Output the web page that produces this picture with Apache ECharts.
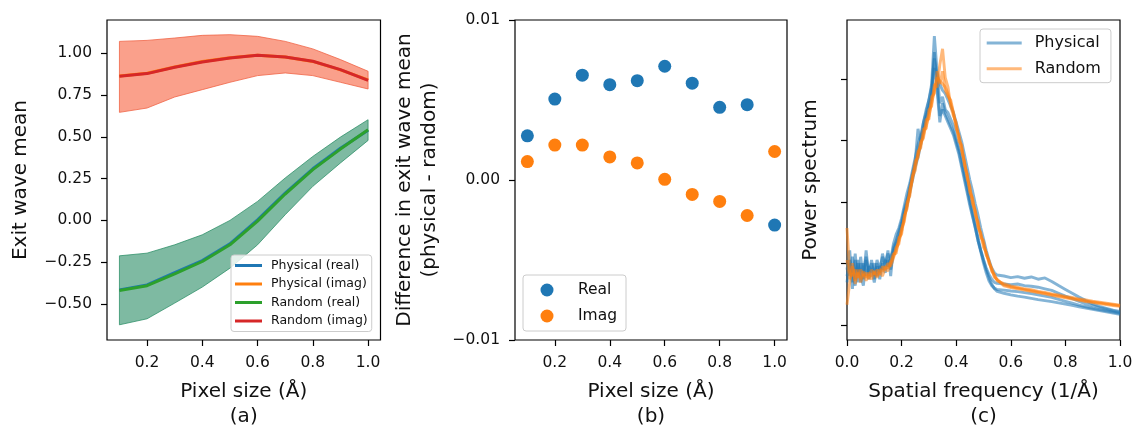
<!DOCTYPE html>
<html><head><meta charset="utf-8">
<script src="https://cdn.jsdelivr.net/npm/echarts@6/dist/echarts.min.js"></script>
<style>html,body{margin:0;padding:0;background:#fff}#c{width:1133px;height:427px}</style>
</head><body><div id="c"></div>
<script>
// ---------- Panel (a) ----------
const pixelSize = [0.1,0.2,0.3,0.4,0.5,0.6,0.7,0.8,0.9,1.0];
const randomReal      = [-0.419,-0.391,-0.320,-0.246,-0.146,-0.004,0.158,0.304,0.427,0.543];
const randomRealUpper = [-0.212,-0.196,-0.146,-0.086,0.000,0.114,0.254,0.383,0.499,0.603];
const randomRealLower = [-0.625,-0.589,-0.495,-0.399,-0.286,-0.146,0.034,0.204,0.344,0.479];
const randomImag      = [0.863,0.879,0.917,0.949,0.973,0.989,0.979,0.953,0.903,0.839];
const randomImagUpper = [1.072,1.078,1.092,1.108,1.112,1.102,1.072,1.027,0.963,0.893];
const randomImagLower = [0.647,0.673,0.739,0.783,0.827,0.867,0.883,0.867,0.827,0.787];
const physicalReal    = [-0.416,-0.386,-0.313,-0.240,-0.140,0.003,0.164,0.309,0.432,0.540];
const physicalImag    = [0.864,0.881,0.919,0.951,0.974,0.989,0.978,0.952,0.901,0.841];
const yTicksA = [-0.5,-0.25,0,0.25,0.5,0.75,1.0];
const xTicksAB = [0.2,0.4,0.6,0.8,1.0];

// ---------- Panel (b) ----------
const diffReal = [0.00276,0.00506,0.00655,0.00596,0.00621,0.00711,0.00605,0.00454,0.00471,-0.00282];
const diffImag = [0.00115,0.00218,0.00218,0.00144,0.00107,0.00004,-0.00090,-0.00134,-0.00222,0.00178];

// ---------- Panel (c) ----------
const freq = [0.00,0.01,0.02,0.03,0.04,0.05,0.06,0.07,0.08,0.09,0.10,0.11,0.12,0.13,0.14,0.15,0.16,0.17,0.18,0.19,
  0.20,0.21,0.22,0.23,0.24,0.25,0.26,0.27,0.28,0.29,0.30,0.31,0.32,0.33,0.34,0.35,0.36,0.37,0.38,0.39,
  0.40,0.41,0.42,0.43,0.44,0.45,0.46,0.47,0.48,0.49,0.50,0.51,0.52,0.53,0.54,0.55,
  0.575,0.600,0.625,0.650,0.675,0.700,0.725,0.750,0.775,0.800,0.825,0.850,0.875,0.900,0.925,0.950,0.975,1.000];
const physical1 = [22,28,16,27,18,26,19,28,20,25,19,24,21,27,23,28,20,29,31,34,37,41,44,48,52,56,66,62,68,72,75,80,95,84,74,76,72,71,69,67,63,60,57,52,48.5,44,40,36,32,28,25,22,19.5,17.5,16,15.2,
  14.6,14.1,13.7,13.4,13.0,12.6,12.3,12.0,11.6,11.2,10.8,10.4,10.0,9.6,9.2,8.8,8.4,8.0];
const physical2 = [20,24,18,25,20,24,21,26,21,24,20,25,22,26,24,27,25,30,33,35,38,42,46,49,53,57,61,64,68,71,75,79,88,83,80,78,77,75,73,71,68,65,62,58,54,50,46.5,42.5,39,35,31.5,28,25,22.5,21,20.3,
  20.0,19.5,19.8,19.3,19.7,19.0,19.4,18.3,17.0,15.8,14.6,13.4,12.3,11.3,10.5,9.9,9.3,8.9];
const physical3 = [24,20,26,19,25,18,24,20,23,21,24,20,23,22,25,23,26,28,30,33,36,40,43,47,51,55,58,63,66,70,73,77,85,80,70,72,70,68,66,64,61,58,54,50,46,42,38.5,35,31,28,25,22.5,20.5,19,18,17.7,
  17.5,17.3,17.5,17.0,16.8,16.5,16.0,15.5,14.6,13.7,12.9,12.1,11.3,10.7,10.1,9.6,9.1,8.6];
const physical4 = [18,25,21,17,24,20,17,25,19,22,18,23,19,24,21,25,22,27,30,32,35,39,42,46,50,54,57,61,65,69,72,76,90,78,68,74,71,69,67,65,62,59,55,51,47,43,39,35,31,27.5,24,21,18.5,17,16.2,15.8,
  15.6,15.3,15.1,14.8,14.5,14.1,13.7,13.3,12.7,12.1,11.5,10.9,10.4,9.9,9.5,9.1,8.7,8.3];
const random1 = [25,19,23,18.5,21,19,21.5,19.5,21,20,21.5,20,22,21.5,23,22.5,24,26,28,31,34,38,42,46,51.5,54.5,58,61,64,67,70,74,78,82,81,80,79,77,74,71,67,63.5,60,55.5,51.5,47,43.5,40,36,33,30,27,24.5,22,20,18.8,
  17.2,16.6,16.2,15.8,15.4,15.0,14.6,14.2,13.8,13.4,13.0,12.6,12.2,11.9,11.6,11.3,11.0,10.7];
const random2 = [35,21,20,22,19.5,22,20,21,19,22,20.5,22,20.5,23,22,24,23,25.5,29,30,35,37,43,45,51,53,59,60,66,66,72,73,80,79,86,91,82,79,73,70,68,62,61,54.5,52,46,44.5,39,37,32,31,26.5,25,21.5,20.5,18.5,
  17.6,16.9,16.5,16.0,15.7,15.2,14.9,14.4,14.1,13.6,13.3,12.8,12.5,12.1,11.8,11.5,11.2,10.9];
const random3 = [11,18,24,17.5,22,18,20.5,18.5,20.5,19,21,19.5,21,20,22.5,21.5,24.5,27,27,32,33,39,41,47,50,56,57,62,63,69,69,76,77,84,80,84,78,76,75,71,66,64,59,56,50.5,48,42.5,40.5,35,33.5,29,27.5,24,22.5,19.5,19,
  16.9,16.4,16.0,15.6,15.2,14.8,14.4,14.0,13.6,13.2,12.8,12.4,12.0,11.7,11.4,11.1,10.8,10.5];
const yTicksC = [4.7,24.0,43.1,62.3,81.5];

// ---------- styling / layout ----------
const FONT = 'DejaVu Sans';
const TXT = '#111';
const BLUE = '#1f77b4', ORANGE = '#ff7f0e', GREEN = '#2ca02c', RED = '#d62728';
const zip = (xs, ys) => xs.map((x, i) => [x, ys[i]]);
const fmtNum = (d) => (v) => (v < -1e-12 ? '\u2212' : '') + Math.abs(v).toFixed(d);

const grids = [
  {left: 107, top: 20, width: 273.5, height: 320},
  {left: 515, top: 20, width: 272, height: 320},
  {left: 847, top: 20, width: 273, height: 320}
].map(g => Object.assign(g, {show: true, borderColor: '#000', borderWidth: 1.2, backgroundColor: 'transparent', containLabel: false, outerBoundsMode: 'none'}));

function xAx(i, min, max, name, ticks, interval) {
  const a = {
    type: 'value', gridIndex: i, min, max, position: 'bottom',
    name, nameLocation: 'middle', nameGap: 39,
    nameTextStyle: {fontFamily: FONT, fontSize: 20, color: TXT, lineHeight: 25},
    axisLine: {show: false, onZero: false},
    axisTick: {show: true, inside: false, length: 6, lineStyle: {color: '#000', width: 1.2}},
    axisLabel: {fontFamily: FONT, fontSize: 15.5, color: TXT, margin: 15, formatter: fmtNum(1)},
    splitLine: {show: false}
  };
  if (ticks) { a.axisTick.customValues = ticks; a.axisLabel.customValues = ticks; }
  if (interval) a.interval = interval;
  return a;
}
function yAx(i, min, max, name, nameGap, ticks, digits, showLabels, interval) {
  const a = {
    type: 'value', gridIndex: i, min, max, position: 'left',
    name, nameLocation: 'middle', nameGap,
    nameTextStyle: {fontFamily: FONT, fontSize: 20, color: TXT, lineHeight: 25},
    axisLine: {show: false, onZero: false},
    axisTick: {show: true, inside: false, length: 6, lineStyle: {color: '#000', width: 1.2}},
    axisLabel: {show: showLabels, fontFamily: FONT, fontSize: 15.5, color: TXT, margin: 15, formatter: fmtNum(digits)},
    splitLine: {show: false}
  };
  if (ticks) { a.axisTick.customValues = ticks; a.axisLabel.customValues = ticks; }
  if (interval) a.interval = interval;
  return a;
}

function band(xs, up, lo, fill, stroke, gi) {
  return {
    type: 'custom', xAxisIndex: gi, yAxisIndex: gi, silent: true, z: 1,
    data: xs.map((x, i) => [x, up[i], lo[i]]),
    encode: {x: 0, y: [1, 2]},
    renderItem: (params, api) => {
      if (params.dataIndex !== 0) return null;
      const pts = [];
      for (let i = 0; i < xs.length; i++) pts.push(api.coord([xs[i], up[i]]));
      for (let i = xs.length - 1; i >= 0; i--) pts.push(api.coord([xs[i], lo[i]]));
      return {type: 'polygon', shape: {points: pts}, style: {fill, stroke, lineWidth: 1}};
    }
  };
}
function line(name, xs, ys, color, width, gi, z) {
  return {
    name, type: 'line', xAxisIndex: gi, yAxisIndex: gi, data: zip(xs, ys),
    showSymbol: false, symbol: 'none', color, z,
    lineStyle: {color, width}, emphasis: {disabled: true}
  };
}

const PHYS_C = 'rgba(31,119,180,0.55)', RAND_C = 'rgba(255,127,14,0.55)';
const series = [
  band(pixelSize, randomRealUpper, randomRealLower, 'rgba(40,140,100,0.6)', 'rgba(40,140,100,0.75)', 0),
  band(pixelSize, randomImagUpper, randomImagLower, 'rgba(248,120,90,0.7)', 'rgba(240,100,70,0.8)', 0),
  line('Physical (real)', pixelSize, physicalReal, BLUE, 3, 0, 2),
  line('Physical (imag)', pixelSize, physicalImag, ORANGE, 3, 0, 2),
  line('Random (real)', pixelSize, randomReal, GREEN, 3, 0, 3),
  line('Random (imag)', pixelSize, randomImag, RED, 3, 0, 3),
  {name: 'Real', type: 'scatter', xAxisIndex: 1, yAxisIndex: 1, data: zip(pixelSize, diffReal), symbol: 'circle', symbolSize: 13, color: BLUE, itemStyle: {color: BLUE, opacity: 1}},
  {name: 'Imag', type: 'scatter', xAxisIndex: 1, yAxisIndex: 1, data: zip(pixelSize, diffImag), symbol: 'circle', symbolSize: 13, color: ORANGE, itemStyle: {color: ORANGE, opacity: 1}},
  line('Physical', freq, physical1, PHYS_C, 2.9, 2, 2),
  line('Physical', freq, physical2, PHYS_C, 2.9, 2, 2),
  line('Physical', freq, physical3, PHYS_C, 2.9, 2, 2),
  line('Physical', freq, physical4, PHYS_C, 2.9, 2, 2),
  line('Random', freq, random1, RAND_C, 2.9, 2, 3),
  line('Random', freq, random2, RAND_C, 2.9, 2, 3),
  line('Random', freq, random3, RAND_C, 2.9, 2, 3)
];

const legendBase = {
  orient: 'vertical', backgroundColor: 'rgba(255,255,255,0.8)', borderColor: '#ccc', borderWidth: 1, borderRadius: 3,
  selectedMode: false
};

const option = {
  animation: false,
  backgroundColor: '#fff',
  grid: grids,
  xAxis: [
    xAx(0, 0.055, 1.045, 'Pixel size (Å)\n(a)', xTicksAB),
    xAx(1, 0.055, 1.045, 'Pixel size (Å)\n(b)', xTicksAB),
    xAx(2, 0, 1, 'Spatial frequency (1/Å)\n(c)', null, 0.2)
  ],
  yAxis: [
    yAx(0, -0.716, 1.2, 'Exit wave mean', 74, yTicksA, 2, true),
    yAx(1, -0.01, 0.01, 'Difference in exit wave mean\n(physical - random)', 73, null, 2, true, 0.01),
    yAx(2, 0, 100, 'Power spectrum', 24, yTicksC, 0, false)
  ],
  legend: [
    Object.assign({}, legendBase, {
      left: 231, top: 255, data: ['Physical (real)', 'Physical (imag)', 'Random (real)', 'Random (imag)'],
      icon: 'rect', itemWidth: 27, itemHeight: 3, itemGap: 3.5, padding: [3, 4, 3, 4],
      textStyle: {fontFamily: FONT, fontSize: 12.5, color: TXT, lineHeight: 15, padding: [0, 0, 0, 4]}
    }),
    Object.assign({}, legendBase, {
      left: 523, top: 275, data: ['Real', 'Imag'],
      icon: 'circle', itemWidth: 13, itemHeight: 13, itemGap: 8, padding: [6, 9, 6, 17.5],
      itemStyle: {opacity: 1},
      textStyle: {fontFamily: FONT, fontSize: 15.5, color: TXT, lineHeight: 18, padding: [0, 0, 0, 19.5]}
    }),
    Object.assign({}, legendBase, {
      left: 980, top: 29, data: ['Physical', 'Random'],
      icon: 'rect', itemWidth: 35, itemHeight: 3, itemGap: 7.7, padding: [5, 10, 5, 6.7],
      textStyle: {fontFamily: FONT, fontSize: 16, color: TXT, lineHeight: 18, padding: [0, 0, 0, 8]}
    })
  ],
  series
};

const chart = echarts.init(document.getElementById('c'), null, {renderer: 'canvas'});
chart.setOption(option);
</script>
</body></html>
